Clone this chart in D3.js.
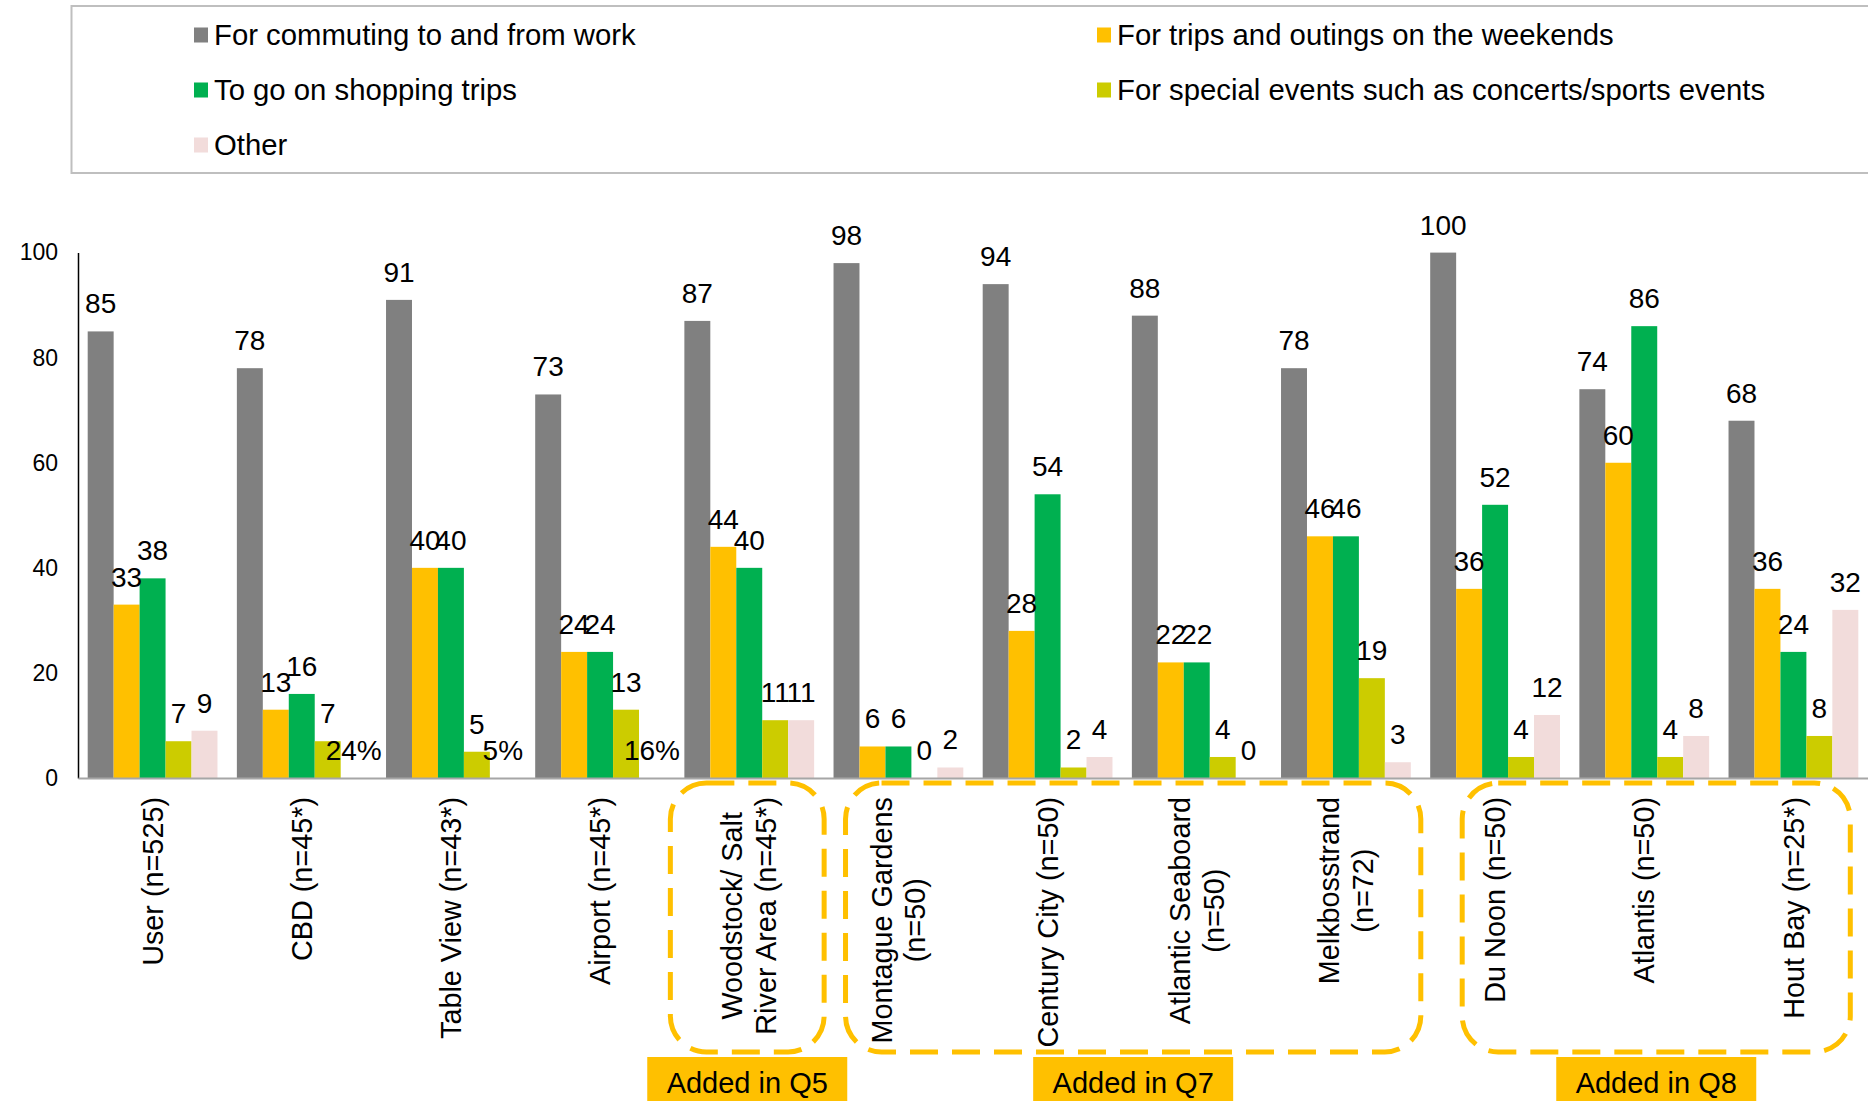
<!DOCTYPE html>
<html>
<head>
<meta charset="utf-8">
<script src="https://cdn.jsdelivr.net/npm/d3@7"></script>
<style>
  body { margin: 0; background: #fff; }
  svg { display: block; font-family: "Liberation Sans", Arial, sans-serif; }
</style>
</head>
<body>
<div id="chart"></div>
<script>
// datos del grafico
const categories = [
  "User (n=525)",
  "CBD (n=45*)",
  "Table View (n=43*)",
  "Airport (n=45*)",
  "Woodstock/ Salt\nRiver Area (n=45*)",
  "Montague Gardens\n(n=50)",
  "Century City (n=50)",
  "Atlantic Seaboard\n(n=50)",
  "Melkbosstrand\n(n=72)",
  "Du Noon (n=50)",
  "Atlantis (n=50)",
  "Hout Bay (n=25*)"
];
const seriesNames = [
  "For commuting to and from work",
  "For trips and outings on the weekends",
  "To go on shopping trips",
  "For special events such as concerts/sports events",
  "Other"
];
const commuting = [85, 78, 91, 73, 87, 98, 94, 88, 78, 100, 74, 68];
const weekends = [33, 13, 40, 24, 44, 6, 28, 22, 46, 36, 60, 36];
const shopping = [38, 16, 40, 24, 40, 6, 54, 22, 46, 52, 86, 24];
const specialEvents = [7, 7, 5, 13, 11, 0, 2, 4, 19, 4, 4, 8];
const other = [9, 0, 0, 0, 11, 2, 4, 0, 3, 12, 8, 32];
// etiquetas tal como aparecen en el original (incluye los % sueltos)
const otherLabels = ["9", "24%", "5%", "16%", "11", "2", "4", "0", "3", "12", "8", "32"];
const yTicks = [0, 20, 40, 60, 80, 100];
const addedGroups = [
  { label: "Added in Q5", from: 4, to: 4 },
  { label: "Added in Q7", from: 5, to: 8 },
  { label: "Added in Q8", from: 9, to: 11 }
];

const seriesValues = [commuting, weekends, shopping, specialEvents, other];
const seriesColors = ["#808080", "#FFC000", "#00B050", "#CCCC00", "#F2DCDB"];
const seriesLabels = seriesValues.map((vals, i) => i === 4 ? otherLabels : vals.map(String));

const width = 1868, height = 1101;

const svg = d3.select("#chart").append("svg")
  .attr("width", width)
  .attr("height", height);

// escalas
const x = d3.scaleBand()
  .domain(d3.range(categories.length))
  .range([78, 1868])
  .paddingInner(0.13)
  .paddingOuter(0.065);
const xs = d3.scaleBand().domain(d3.range(seriesValues.length)).range([0, x.bandwidth()]);
const y = d3.scaleLinear().domain([0, 100]).range([778, 252.6]);

// leyenda
const legend = svg.append("g");
legend.append("rect")
  .attr("x", 71.5).attr("y", 6)
  .attr("width", 1860).attr("height", 167)
  .attr("fill", "none").attr("stroke", "#BFBFBF").attr("stroke-width", 2);
const legendPos = [[194, 35], [1097, 35], [194, 90], [1097, 90], [194, 145]];
seriesNames.forEach((name, i) => {
  const [lx, ly] = legendPos[i];
  legend.append("rect")
    .attr("x", lx).attr("y", ly - 7.5)
    .attr("width", 14).attr("height", 15)
    .attr("fill", seriesColors[i]);
  legend.append("text")
    .attr("x", lx + 20).attr("y", ly + 10)
    .attr("font-size", 29.3)
    .attr("fill", "#000")
    .text(name);
});

// eje y
const yAxis = svg.append("g")
  .attr("transform", "translate(78,0)")
  .call(d3.axisLeft(y).tickValues(yTicks).tickSize(0).tickSizeOuter(0).tickPadding(20));
yAxis.select(".domain").attr("stroke", "#000").attr("stroke-width", 1.5);
yAxis.selectAll("text").attr("font-size", 23).attr("fill", "#000")
  .attr("font-family", "Liberation Sans, Arial, sans-serif");

// barras
const groups = svg.append("g").selectAll("g")
  .data(seriesValues)
  .join("g")
  .attr("fill", (d, i) => seriesColors[i]);

groups.each(function (vals, si) {
  d3.select(this).selectAll("rect")
    .data(vals)
    .join("rect")
    .attr("x", (d, ci) => x(ci) + xs(si))
    .attr("y", d => y(d))
    .attr("width", xs.bandwidth())
    .attr("height", d => y(0) - y(d));
});

// etiquetas de datos
seriesValues.forEach((vals, si) => {
  svg.append("g").selectAll("text")
    .data(vals)
    .join("text")
    .attr("x", (d, ci) => x(ci) + xs(si) + xs.bandwidth() / 2)
    .attr("y", d => y(d) - 18)
    .attr("text-anchor", "middle")
    .attr("font-size", 28)
    .attr("fill", "#000")
    .text((d, ci) => seriesLabels[si][ci]);
});

// eje x
const xAxis = svg.append("g")
  .attr("transform", `translate(0,${y(0)})`)
  .call(d3.axisBottom(x).tickSize(0).tickSizeOuter(0).tickFormat(""));
xAxis.select(".domain").attr("stroke", "#A6A6A6").attr("stroke-width", 2);
xAxis.selectAll(".tick text").remove();

// etiquetas de categorias (rotadas, lineas centradas)
categories.forEach((name, ci) => {
  const lines = name.split("\n");
  const g = svg.append("g")
    .attr("transform", `translate(${x(ci) + x.bandwidth() / 2},797) rotate(-90)`);
  const texts = lines.map((line, k) => g.append("text")
    .attr("text-anchor", "middle")
    .attr("y", (k - (lines.length - 1) / 2) * 34)
    .attr("dy", "0.35em")
    .attr("font-size", 28.8)
    .attr("fill", "#000")
    .text(line));
  const maxW = d3.max(texts, t => t.node().getComputedTextLength());
  texts.forEach(t => t.attr("x", -maxW / 2));
});

// recuadros "Added in"
const boxPads = [[-14, 10], [12, 10], [32, -8]];
addedGroups.forEach((grp, i) => {
  const x0 = x(grp.from) + boxPads[i][0];
  const x1 = x(grp.to) + x.bandwidth() + boxPads[i][1];
  svg.append("rect")
    .attr("x", x0).attr("y", 783)
    .attr("width", x1 - x0).attr("height", 269)
    .attr("rx", 36).attr("ry", 36)
    .attr("fill", "none")
    .attr("stroke", "#FFC000")
    .attr("stroke-width", 5)
    .attr("stroke-dasharray", "28,14");
  const cx = (x0 + x1) / 2;
  svg.append("rect")
    .attr("x", cx - 100).attr("y", 1057)
    .attr("width", 200).attr("height", 60)
    .attr("fill", "#FFC000");
  svg.append("text")
    .attr("x", cx).attr("y", 1093)
    .attr("text-anchor", "middle")
    .attr("font-size", 29)
    .attr("fill", "#000")
    .text(grp.label);
});
</script>
</body>
</html>
